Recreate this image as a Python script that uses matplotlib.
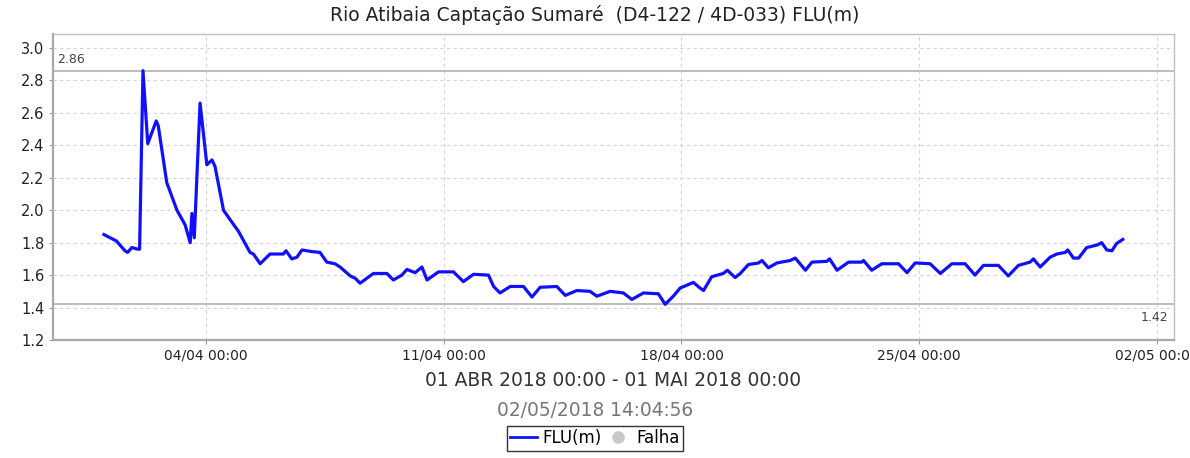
import numpy as np
import pandas as pd
import matplotlib
matplotlib.use('Agg')
import matplotlib.pyplot as plt
import matplotlib.dates as mdates
from matplotlib.lines import Line2D

# dias desde 01/04/2018 00:00 e nivel (m)
dias = [0.00, 0.37, 0.62, 0.70, 0.82, 0.99, 1.05, 1.15, 1.29, 1.54, 1.60, 1.85, 2.15, 2.39,
        2.54, 2.59, 2.66, 2.83, 3.03, 3.18, 3.27, 3.52, 3.72, 3.96, 4.30, 4.40, 4.60, 4.89,
        5.28, 5.36, 5.53, 5.68, 5.83, 6.12, 6.36, 6.56, 6.80, 6.95, 7.25, 7.40, 7.54, 7.93,
        8.33, 8.52, 8.77, 8.92, 9.16, 9.36, 9.51, 9.85, 10.29, 10.58, 10.88, 11.32, 11.47,
        11.66, 11.96, 12.35, 12.60, 12.84, 13.33, 13.58, 13.92, 14.31, 14.51, 14.90, 15.29,
        15.54, 15.88, 16.32, 16.52, 16.76, 16.96, 17.35, 17.55, 17.65, 17.89, 18.23, 18.35,
        18.58, 18.73, 18.97, 19.27, 19.37, 19.56, 19.81, 20.20, 20.35, 20.65, 20.84, 21.28,
        21.36, 21.58, 21.92, 22.31, 22.36, 22.60, 22.90, 23.39, 23.64, 23.88, 24.32, 24.62,
        24.96, 25.35, 25.64, 25.89, 26.33, 26.62, 26.92, 27.26, 27.36, 27.56, 27.85, 28.05,
        28.30, 28.37, 28.54, 28.69, 28.93, 29.23, 29.37, 29.52, 29.67, 29.81, 29.99]
nivel = [1.85, 1.81, 1.75, 1.74, 1.77, 1.76, 1.76, 2.86, 2.41, 2.55, 2.52, 2.17, 2.00, 1.91,
         1.80, 1.98, 1.83, 2.66, 2.28, 2.31, 2.27, 2.00, 1.94, 1.87, 1.74, 1.73, 1.67, 1.73,
         1.73, 1.75, 1.70, 1.71, 1.755, 1.745, 1.74, 1.68, 1.67, 1.65, 1.595, 1.58, 1.55, 1.61,
         1.61, 1.57, 1.60, 1.635, 1.615, 1.65, 1.57, 1.62, 1.62, 1.56, 1.605, 1.60, 1.53,
         1.49, 1.53, 1.53, 1.465, 1.525, 1.53, 1.475, 1.505, 1.50, 1.47, 1.50, 1.49,
         1.45, 1.49, 1.485, 1.42, 1.47, 1.52, 1.555, 1.52, 1.505, 1.59, 1.61, 1.63,
         1.585, 1.61, 1.665, 1.675, 1.69, 1.645, 1.675, 1.69, 1.705, 1.63, 1.68, 1.685,
         1.70, 1.63, 1.68, 1.68, 1.69, 1.63, 1.67, 1.67, 1.615, 1.675, 1.67, 1.61,
         1.67, 1.67, 1.60, 1.66, 1.66, 1.595, 1.66, 1.68, 1.70, 1.65, 1.71, 1.73,
         1.74, 1.755, 1.705, 1.705, 1.77, 1.785, 1.80, 1.755, 1.75, 1.795, 1.82]

titulo = 'Rio Atibaia Captação Sumaré  (D4-122 / 4D-033) FLU(m)'
periodo = '01 ABR 2018 00:00 - 01 MAI 2018 00:00'
gerado = '02/05/2018 14:04:56'

inicio = pd.Timestamp('2018-04-01 00:00')
t = inicio + pd.to_timedelta(dias, unit='D')
ticks = pd.date_range('2018-04-04', periods=5, freq='7D')

fig = plt.figure(figsize=(11.9, 4.58), dpi=100)
ax = fig.add_axes([0.0445, 0.2576, 0.9421, 0.6682])

ax.plot(t, nivel, color='#1010ff', lw=2.3, solid_joinstyle='round', zorder=3)

vmax = max(nivel)
vmin = min(nivel)
ax.axhline(vmax, color='#b8b8b8', lw=1.3, zorder=2)
ax.axhline(vmin, color='#b8b8b8', lw=1.3, zorder=2)
ax.text(0.004, vmax + 0.03, '%.2f' % vmax, transform=ax.get_yaxis_transform(),
        fontsize=9, color='#444444', ha='left', va='bottom')
ax.text(0.995, vmin - 0.04, '%.2f' % vmin, transform=ax.get_yaxis_transform(),
        fontsize=9, color='#444444', ha='right', va='top')

ax.set_xlim(pd.Timestamp('2018-03-30 12:00'), pd.Timestamp('2018-05-02 12:00'))
ax.set_ylim(1.2, 3.086)
ax.set_yticks(np.arange(1.2, 3.01, 0.2))
ax.set_xticks(ticks)
ax.xaxis.set_major_formatter(mdates.DateFormatter('%d/%m %H:%M'))
ax.yaxis.set_major_formatter(plt.FormatStrFormatter('%.1f'))

ax.grid(True, color='#d4d4d4', lw=0.8, ls=(0, (3, 3)))
ax.set_axisbelow(True)
for s in ax.spines.values():
    s.set_color('#c0c0c0')
    s.set_linewidth(1.0)
ax.spines['left'].set_color('#a8a8a8')
ax.spines['bottom'].set_color('#a8a8a8')
ax.spines['left'].set_linewidth(1.6)
ax.spines['bottom'].set_linewidth(1.6)
ax.tick_params(axis='y', labelsize=10.5, colors='#222222', length=3, color='#999999', pad=3)
ax.tick_params(axis='x', labelsize=10, colors='#222222', length=3, color='#999999', pad=3)

fig.text(0.5, 0.968, titulo, ha='center', va='center', fontsize=13.5, color='#222222')
fig.text(0.515, 0.170, periodo, ha='center', va='center', fontsize=13.4, color='#333333')
fig.text(0.5, 0.104, gerado, ha='center', va='center', fontsize=13.4, color='#777777')

hs = [Line2D([], [], color='#1010ff', lw=2),
      Line2D([], [], color='#c8c8c8', marker='o', ls='none', markersize=8)]
leg = fig.legend(hs, ['FLU(m)', 'Falha'], loc='center', bbox_to_anchor=(0.5, 0.043),
                 ncol=2, fontsize=12, frameon=True, fancybox=False, handlelength=1.6,
                 handletextpad=0.3, columnspacing=0.2, borderpad=0.2, borderaxespad=0)
leg.get_frame().set_edgecolor('black')
leg.get_frame().set_linewidth(1.0)

fig.savefig('out.png', dpi=100)
